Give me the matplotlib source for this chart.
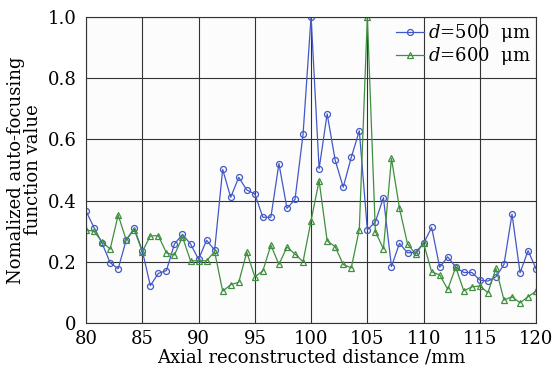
import numpy as np
import matplotlib
matplotlib.use("Agg")
import matplotlib.pyplot as plt

# data, 57 samples every 5/7 mm from 80 to 120
x = np.linspace(80, 120, 57)
d500 = [0.366, 0.312, 0.261, 0.198, 0.178, 0.272, 0.31, 0.237, 0.123, 0.163,
        0.172, 0.259, 0.29, 0.259, 0.209, 0.271, 0.239, 0.502, 0.411, 0.476,
        0.435, 0.422, 0.346, 0.346, 0.521, 0.375, 0.404, 0.616, 1.0, 0.504,
        0.683, 0.532, 0.444, 0.541, 0.628, 0.305, 0.331, 0.41, 0.185, 0.261,
        0.23, 0.232, 0.261, 0.313, 0.183, 0.217, 0.183, 0.166, 0.166, 0.141,
        0.138, 0.152, 0.192, 0.356, 0.165, 0.237, 0.177]
d600 = [0.305, 0.30, 0.266, 0.242, 0.353, 0.272, 0.306, 0.234, 0.285, 0.286,
        0.230, 0.223, 0.282, 0.204, 0.204, 0.204, 0.234, 0.105, 0.126, 0.134,
        0.232, 0.152, 0.171, 0.255, 0.192, 0.249, 0.226, 0.201, 0.335, 0.465,
        0.269, 0.25, 0.192, 0.181, 0.306, 1.0, 0.299, 0.243, 0.538, 0.375,
        0.259, 0.226, 0.261, 0.168, 0.158, 0.111, 0.183, 0.106, 0.119, 0.122,
        0.1, 0.179, 0.076, 0.087, 0.067, 0.087, 0.105]

plt.rcParams['font.family'] = 'DejaVu Serif'
plt.rcParams['mathtext.fontset'] = 'dejavuserif'

fig = plt.figure(figsize=(5.55, 3.7), dpi=100)
ax = fig.add_axes([0.155, 0.126, 0.811, 0.829])
ax.set_facecolor('#fcfcfc')

ax.plot(x, d500, color='#4358c6', lw=0.9, marker='o', ms=4.3, mfc='none',
        mew=0.9, label=r'$d$=500  μm')
ax.plot(x, d600, color='#3f8f3f', lw=0.9, marker='^', ms=4.8, mfc='none',
        mew=0.9, label=r'$d$=600  μm')

ax.set_xlim(80, 120)
ax.set_ylim(0, 1)
ax.set_xticks(np.arange(80, 121, 5))
ax.set_yticks([0, 0.2, 0.4, 0.6, 0.8, 1.0])
ax.set_yticklabels(['0', '0.2', '0.4', '0.6', '0.8', '1.0'])
ax.grid(True, color='#333333', lw=0.8)
ax.tick_params(axis='x', length=0, labelsize=13, pad=5)
ax.tick_params(axis='y', length=0, labelsize=13, pad=7)
for s in ax.spines.values():
    s.set_color('#333333')
    s.set_linewidth(0.8)

ax.set_xlabel('Axial reconstructed distance /mm', fontsize=13, labelpad=0)
ax.set_ylabel('Nomalized auto-focusing\nfunction value', fontsize=13,
              linespacing=0.95, labelpad=4)
ax.legend(loc='upper right', fontsize=13, frameon=False, handlelength=1.6,
          handletextpad=0.2, labelspacing=0.05, borderaxespad=0.2,
          borderpad=0.1)

fig.savefig('out.png', dpi=100)
